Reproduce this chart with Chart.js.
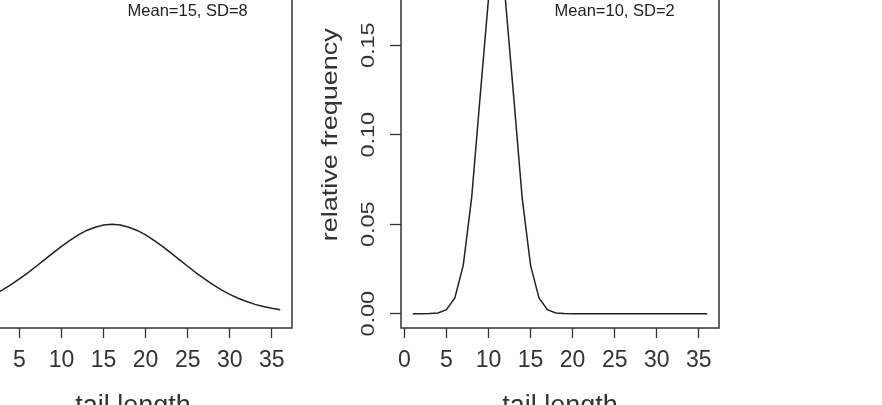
<!DOCTYPE html>
<html>
<head>
<meta charset="utf-8">
<title>tail length</title>
<script src="https://cdn.jsdelivr.net/npm/chart.js@4.4.1/dist/chart.umd.min.js"></script>
<style>
  html, body { margin: 0; padding: 0; background: #fff; overflow: hidden; width: 882px; height: 405px; }
  .panel { position: absolute; top: -80px; width: 428px; height: 518px; }
  #left { left: -126px; }
  #right { left: 301px; }
</style>
</head>
<body>
<div class="panel" id="left"><canvas id="chartLeft"></canvas></div>
<div class="panel" id="right"><canvas id="chartRight"></canvas></div>
<script>
// tail length categories (x) and relative frequency
const tailLength = [1, 2, 3, 4, 5, 6, 7, 8, 9, 10, 11, 12, 13, 14, 15, 16, 17, 18,
                    19, 20, 21, 22, 23, 24, 25, 26, 27, 28, 29, 30, 31, 32, 33, 34, 35, 36];
const freqWide = [0.0086, 0.0108, 0.0133, 0.0162, 0.0194, 0.0228, 0.0265, 0.0302, 0.0340,
                  0.0376, 0.0410, 0.0440, 0.0465, 0.0483, 0.0495, 0.0499, 0.0495, 0.0483,
                  0.0465, 0.0440, 0.0410, 0.0376, 0.0340, 0.0302, 0.0265, 0.0228, 0.0194,
                  0.0162, 0.0133, 0.0108, 0.0086, 0.0068, 0.0052, 0.0040, 0.0030, 0.0022];
const freqNarrow = [0.0000, 0.0000, 0.0001, 0.0004, 0.0022, 0.0088, 0.0270, 0.0648, 0.1210,
                    0.1760, 0.1995, 0.1760, 0.1210, 0.0648, 0.0270, 0.0088, 0.0022, 0.0004,
                    0.0001, 0.0000, 0.0000, 0.0000, 0.0000, 0.0000, 0.0000, 0.0000, 0.0000,
                    0.0000, 0.0000, 0.0000, 0.0000, 0.0000, 0.0000, 0.0000, 0.0000, 0.0000];
const xTicks = [0, 5, 10, 15, 20, 25, 30, 35];
const yTicks = [0, 0.05, 0.10, 0.15, 0.20];
const captions = ['Mean=15, SD=8', 'Mean=10, SD=2'];

const FONT = '"Liberation Sans", Arial, sans-serif';
const INK = '#333';

// rotated text, squashed across its height like the original device output
function rotText(ctx, text, x, y, squash) {
    ctx.save();
    ctx.translate(x, y);
    ctx.rotate(-Math.PI / 2);
    ctx.scale(1, squash);
    ctx.fillText(text, 0, 0);
    ctx.restore();
}

// box, rotated y labels and the caption, R style
const rFrame = {
    id: 'rFrame',
    afterDraw(chart, args, opts) {
        const { ctx, chartArea: a, scales: { x, y } } = chart;
        ctx.save();
        ctx.strokeStyle = INK;
        ctx.lineWidth = 1.5;
        ctx.strokeRect(a.left, a.top, a.right - a.left, a.bottom - a.top);

        ctx.fillStyle = INK;
        ctx.textAlign = 'center';
        ctx.textBaseline = 'middle';
        ctx.font = '23.5px ' + FONT;
        yTicks.forEach(v => rotText(ctx, v.toFixed(2), a.left - 32, y.getPixelForValue(v), 0.78));

        ctx.font = '27px ' + FONT;
        rotText(ctx, 'relative frequency', a.left - 70.5, (a.top + a.bottom) / 2, 0.82);

        ctx.fillStyle = '#222';
        ctx.font = '16.5px ' + FONT;
        ctx.fillText(opts.caption, x.getPixelForValue(25), y.getPixelForValue(0.169));
        ctx.restore();
    }
};

function makeChart(canvasId, values, caption) {
    const ctx = document.getElementById(canvasId).getContext('2d');
    return new Chart(ctx, {
        type: 'line',
        data: {
            datasets: [{
                data: tailLength.map((t, i) => ({ x: t, y: values[i] })),
                borderColor: '#222',
                borderWidth: 1.5,
                pointRadius: 0,
                tension: 0,
                fill: false
            }]
        },
        options: {
            responsive: true,
            maintainAspectRatio: false,
            animation: false,
            layout: { padding: { top: 21.4, right: 10, bottom: 0, left: 0 } },
            plugins: {
                legend: { display: false },
                tooltip: { enabled: false },
                rFrame: { caption: caption }
            },
            scales: {
                x: {
                    type: 'linear',
                    min: -0.4,
                    max: 37.4,
                    afterBuildTicks: s => { s.ticks = xTicks.map(v => ({ value: v })); },
                    afterFit: s => { s.height = 110; },
                    grid: { drawOnChartArea: false, drawTicks: true, tickLength: 10, tickColor: INK, tickWidth: 1.3 },
                    border: { display: false },
                    ticks: { padding: 8.5, color: INK, autoSkip: false, maxRotation: 0, font: { family: FONT, size: 23 } },
                    title: {
                        display: true,
                        text: 'tail length',
                        color: INK,
                        font: { family: FONT, size: 27 },
                        padding: { top: 0, bottom: 15 }
                    }
                },
                y: {
                    type: 'linear',
                    min: -0.008,
                    max: 0.208,
                    afterBuildTicks: s => { s.ticks = yTicks.map(v => ({ value: v })); },
                    afterFit: s => { s.width = 100; },
                    grid: { drawOnChartArea: false, drawTicks: true, tickLength: 11, tickColor: INK, tickWidth: 1.3 },
                    border: { display: false },
                    ticks: { display: false }
                }
            }
        },
        plugins: [rFrame]
    });
}

makeChart('chartLeft', freqWide, captions[0]);
makeChart('chartRight', freqNarrow, captions[1]);
</script>
</body>
</html>
